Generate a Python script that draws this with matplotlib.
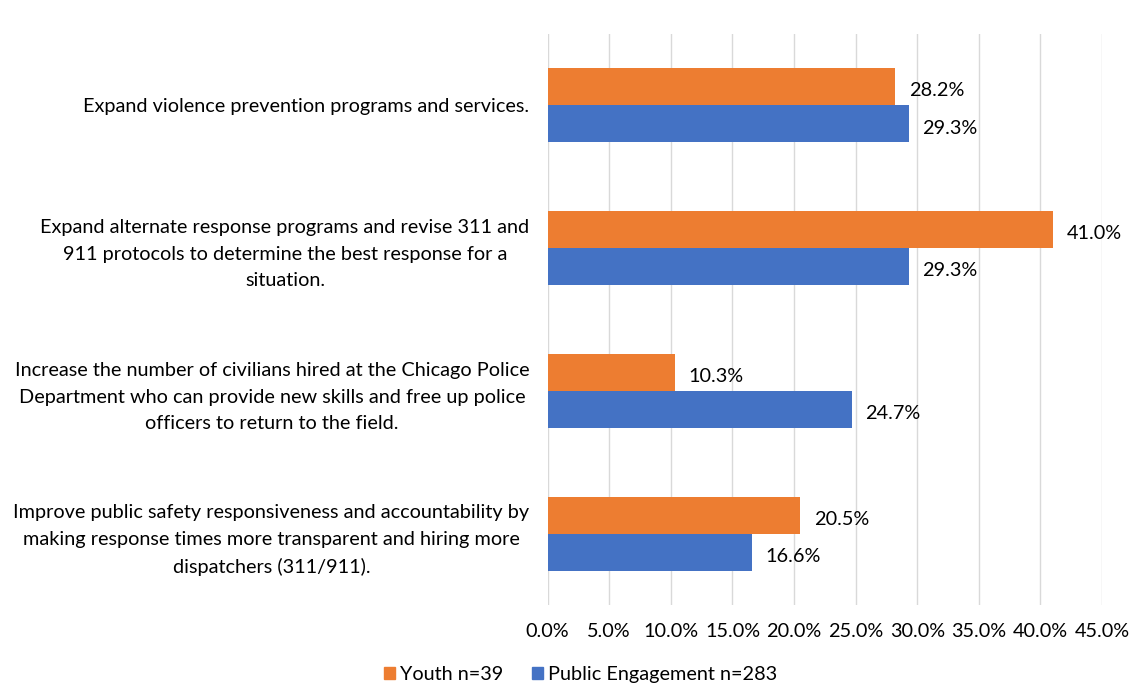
import matplotlib
matplotlib.use("Agg")
import matplotlib.pyplot as plt
import matplotlib.transforms as mtransforms
import numpy as np
from matplotlib.patches import Patch

categories = [
    "Expand violence prevention programs and services.",
    "Expand alternate response programs and revise 311 and\n911 protocols to determine the best response for a\nsituation.",
    "Increase the number of civilians hired at the Chicago Police\nDepartment who can provide new skills and free up police\nofficers to return to the field.",
    "Improve public safety responsiveness and accountability by\nmaking response times more transparent and hiring more\ndispatchers (311/911).",
]
youth = [28.2, 41.0, 10.3, 20.5]
public = [29.3, 29.3, 24.7, 16.6]
series_names = ["Youth n=39", "Public Engagement n=283"]
xticks = [0, 5, 10, 15, 20, 25, 30, 35, 40, 45]

orange = "#ED7D31"
blue = "#4472C4"

plt.rcParams['font.family'] = ['Lato', 'DejaVu Sans']
FS = 14.3

fig = plt.figure(figsize=(11.48, 6.9), dpi=100)
ax = fig.add_axes([0.477, 0.123, 0.483, 0.828])

y = np.arange(len(categories))
h = 0.26
ax.barh(y - h / 2, youth, height=h, color=orange, zorder=3)
ax.barh(y + h / 2, public, height=h, color=blue, zorder=3)

for yi, v in zip(y - h / 2, youth):
    ax.text(v + 1.1, yi + 0.03, f"{v:.1f}%", va="center", ha="left", fontsize=FS, color="black")
for yi, v in zip(y + h / 2, public):
    ax.text(v + 1.1, yi + 0.03, f"{v:.1f}%", va="center", ha="left", fontsize=FS, color="black")

ax.set_ylim(len(categories) - 0.5, -0.5)
ax.set_xlim(0, 45)
ax.set_xticks(xticks)
ax.set_xticklabels([f"{t:.1f}%" for t in xticks], fontsize=FS)
ax.set_yticks(y)
ax.set_yticklabels(categories, fontsize=FS, ha="right", multialignment="center", linespacing=1.68)
offset = mtransforms.ScaledTranslation(0, 4 / 100, fig.dpi_scale_trans)
for lbl in ax.get_yticklabels():
    lbl.set_transform(lbl.get_transform() + offset)
ax.tick_params(axis="both", length=0)
ax.tick_params(axis="x", pad=13)
ax.tick_params(axis="y", pad=13)
for s in ax.spines.values():
    s.set_visible(False)
ax.grid(axis="x", color="#D9D9D9", linewidth=1, zorder=0)

handles = [Patch(color=orange), Patch(color=blue)]
fig.legend(handles, series_names, loc="center", bbox_to_anchor=(0.506, 0.022), ncol=2,
           frameon=False, fontsize=FS, handlelength=0.55, handleheight=0.55,
           handletextpad=0.25, columnspacing=1.45)

fig.savefig("out.png", dpi=100, facecolor="white")
